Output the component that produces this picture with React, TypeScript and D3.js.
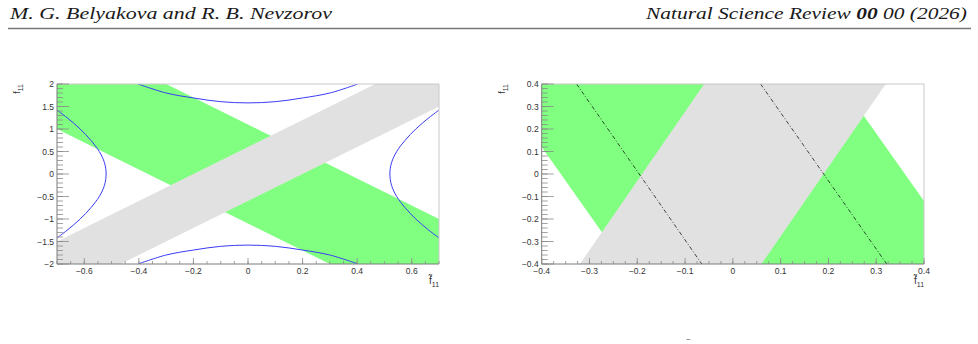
import * as d3 from "d3";

const W = 978;
const H = 344;

// left panel: full range
const leftXDomain = [-0.7, 0.7];
const leftYDomain = [-2, 2];
const leftXTicks = [-0.6, -0.4, -0.2, 0, 0.2, 0.4, 0.6];
const leftYTicks = [-2, -1.5, -1, -0.5, 0, 0.5, 1, 1.5, 2];

// regions, in data coordinates
const leftGreen = [[-0.7, 2], [-0.3, 2], [0.7, -1.0], [0.7, -2], [0.3, -2], [-0.7, 1.0]];
const leftGray = [[-0.7, -1.5], [-0.7, -2], [-0.467, -2], [0.7, 1.5], [0.7, 2], [0.467, 2]];

const rightBranch = [
  [0.7, 1.42], [0.663, 1.25], [0.615, 1.0], [0.576, 0.75], [0.545, 0.5], [0.526, 0.25], [0.52, 0],
  [0.526, -0.25], [0.545, -0.5], [0.576, -0.75], [0.615, -1.0], [0.663, -1.25], [0.7, -1.42],
];
const leftBranch = [
  [-0.7, 1.42], [-0.663, 1.25], [-0.615, 1.0], [-0.576, 0.75], [-0.545, 0.5], [-0.526, 0.25], [-0.52, 0],
  [-0.526, -0.25], [-0.545, -0.5], [-0.576, -0.75], [-0.615, -1.0], [-0.663, -1.25], [-0.7, -1.42],
];
const topBranch = [
  [-0.403, 2.0], [-0.3, 1.8], [-0.2, 1.69], [-0.1, 1.607], [0, 1.58], [0.1, 1.607], [0.2, 1.69], [0.3, 1.8], [0.403, 2.0],
];
const bottomBranch = [
  [-0.403, -2.0], [-0.3, -1.8], [-0.2, -1.69], [-0.1, -1.607], [0, -1.58], [0.1, -1.607], [0.2, -1.69], [0.3, -1.8], [0.403, -2.0],
];

// right panel: zoom around the origin
const rightXDomain = [-0.4, 0.4];
const rightYDomain = [-0.4, 0.4];
const rightXTicks = [-0.4, -0.3, -0.2, -0.1, 0, 0.1, 0.2, 0.3, 0.4];
const rightYTicks = [-0.4, -0.3, -0.2, -0.1, 0, 0.1, 0.2, 0.3, 0.4];

const rightGreen = [[-0.4, 0.4], [0.227, 0.4], [0.4, -0.12], [0.4, -0.4], [-0.227, -0.4], [-0.4, 0.12]];
const rightGray = [[-0.32, -0.4], [0.06, -0.4], [0.32, 0.4], [-0.06, 0.4]];
const dashedLines = [
  [[-0.327, 0.4], [-0.065, -0.4]],
  [[0.058, 0.4], [0.322, -0.4]],
];

const GREEN = "#80ff80";
const GRAY = "#e1e1e1";
const BLUE = "#3b3bf5";
const TICK_FONT = "'Liberation Sans', Arial, sans-serif";
const SERIF = "'Liberation Serif', 'DejaVu Serif', serif";

const fmt = (v) => (v === 0 ? "0" : String(+v.toFixed(2)).replace("-", "\u2212"));

function minorTicks(domain, step) {
  const out = [];
  for (let v = Math.ceil((domain[0] - 1e-9) / step) * step; v <= domain[1] + 1e-9; v += step) out.push(v);
  return out;
}

function Panel({ id, frame, xDomain, yDomain, xTicks, yTicks, xMinor, yMinor, greens, grays, curves, dashes }) {
  const [x0, x1, y0, y1] = frame;
  const x = d3.scaleLinear().domain(xDomain).range([x0, x1]);
  const y = d3.scaleLinear().domain(yDomain).range([y1, y0]);
  const poly = (pts) => "M" + pts.map((p) => `${x(p[0])},${y(p[1])}`).join("L") + "Z";
  const line = d3
    .line()
    .x((d) => x(d[0]))
    .y((d) => y(d[1]))
    .curve(d3.curveCatmullRom.alpha(0.5));

  const xm = minorTicks(xDomain, (xTicks[1] - xTicks[0]) / xMinor);
  const ym = minorTicks(yDomain, (yTicks[1] - yTicks[0]) / yMinor);

  return (
    <g>
      <defs>
        <clipPath id={id}>
          <rect x={x0} y={y0} width={x1 - x0} height={y1 - y0} />
        </clipPath>
      </defs>
      <g clipPath={`url(#${id})`}>
        {greens.map((g, i) => (
          <path key={`g${i}`} d={poly(g)} fill={GREEN} />
        ))}
        {grays.map((g, i) => (
          <path key={`s${i}`} d={poly(g)} fill={GRAY} />
        ))}
        {curves.map((c, i) => (
          <path key={`c${i}`} d={line(c)} fill="none" stroke={BLUE} strokeWidth={1} />
        ))}
        {dashes.map((c, i) => (
          <path
            key={`d${i}`}
            d={line(c)}
            fill="none"
            stroke="#000"
            strokeOpacity={0.7}
            strokeWidth={1}
            strokeDasharray="4 2 1 2"
          />
        ))}
      </g>
      {/* frame */}
      <line x1={x0} x2={x1} y1={y0} y2={y0} stroke="#c8c8c8" />
      <line x1={x1} x2={x1} y1={y0} y2={y1} stroke="#c8c8c8" />
      {/* axes */}
      <line x1={x0} x2={x1} y1={y1} y2={y1} stroke="#7a7a7a" />
      <line x1={x0} x2={x0} y1={y0} y2={y1} stroke="#7a7a7a" />
      {ym.map((v, i) => (
        <line key={`ym${i}`} x1={x0} x2={x0 + 6} y1={y(v)} y2={y(v)} stroke="#8a8a8a" strokeWidth={0.8} />
      ))}
      {yTicks.map((v) => (
        <g key={`y${v}`}>
          <line x1={x0} x2={x0 + 12} y1={y(v)} y2={y(v)} stroke="#8a8a8a" strokeWidth={0.8} />
          <text x={x0 - 3} y={y(v) + 3} textAnchor="end" fontSize={8.5} fontFamily={TICK_FONT} fill="#333">
            {fmt(v)}
          </text>
        </g>
      ))}
      {xm.map((v, i) => (
        <line key={`xm${i}`} x1={x(v)} x2={x(v)} y1={y1} y2={y1 - 3} stroke="#8a8a8a" strokeWidth={0.8} />
      ))}
      {xTicks.map((v) => (
        <g key={`x${v}`}>
          <line x1={x(v)} x2={x(v)} y1={y1} y2={y1 - 6} stroke="#8a8a8a" strokeWidth={0.8} />
          <text x={x(v)} y={y1 + 10} textAnchor="middle" fontSize={8.5} fontFamily={TICK_FONT} fill="#333">
            {fmt(v)}
          </text>
        </g>
      ))}
      {/* axis titles */}
      <text
        transform={`translate(${x0 - 37} ${y0}) rotate(-90)`}
        textAnchor="end"
        fontSize={9}
        fontFamily={TICK_FONT}
        fill="#333"
      >
        f
        <tspan fontSize={7} dy={3}>11</tspan>
      </text>
      <text x={x1 - 10} y={y1 + 20} fontSize={10} fontFamily={TICK_FONT} fill="#333">
        f̃
        <tspan fontSize={7} dy={3}>11</tspan>
      </text>
    </g>
  );
}

export default function App() {
  return (
    <svg
      width={W}
      height={H}
      viewBox={`0 0 ${W} ${H}`}
      style={{ position: "absolute", left: 0, top: 0, background: "#fff" }}
    >
      <rect width={W} height={H} fill="#fff" />
      <text
        x={10}
        y={19}
        fontFamily={SERIF}
        fontStyle="italic"
        fontSize={16.5}
        fill="#1a1a1a"
        textLength={322}
        lengthAdjust="spacingAndGlyphs"
      >
        M. G. Belyakova and R. B. Nevzorov
      </text>
      <text
        x={967}
        y={19}
        textAnchor="end"
        fontFamily={SERIF}
        fontStyle="italic"
        fontSize={16.5}
        fill="#1a1a1a"
        textLength={321}
        lengthAdjust="spacingAndGlyphs"
      >
        Natural Science Review <tspan fontWeight="bold">00</tspan> 00 (2026)
      </text>
      <line x1={8} x2={971} y1={28.5} y2={28.5} stroke="#777" strokeWidth={1.6} />

      <Panel
        id="clipL"
        frame={[57, 439, 84, 264]}
        xDomain={leftXDomain}
        yDomain={leftYDomain}
        xTicks={leftXTicks}
        yTicks={leftYTicks}
        xMinor={4}
        yMinor={5}
        greens={[leftGreen]}
        grays={[leftGray]}
        curves={[leftBranch, rightBranch, topBranch, bottomBranch]}
        dashes={[]}
      />
      <Panel
        id="clipR"
        frame={[541.7, 924, 84, 264]}
        xDomain={rightXDomain}
        yDomain={rightYDomain}
        xTicks={rightXTicks}
        yTicks={rightYTicks}
        xMinor={4}
        yMinor={5}
        greens={[rightGreen]}
        grays={[rightGray]}
        curves={[]}
        dashes={dashedLines}
      />
      <text x={686} y={342} fontSize={8} fontFamily={TICK_FONT} fill="#444">
        ~
      </text>
    </svg>
  );
}
